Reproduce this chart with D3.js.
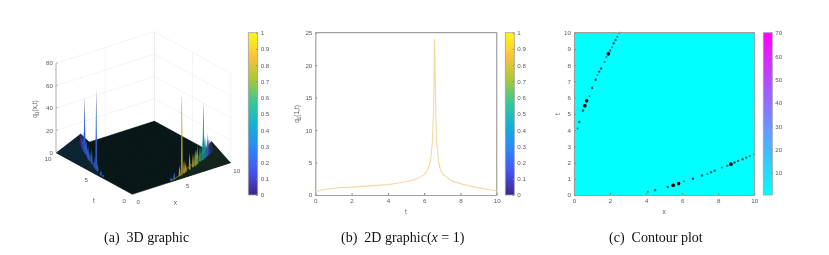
<!DOCTYPE html>
<html>
<head>
<meta charset="utf-8">
<script src="https://cdn.jsdelivr.net/npm/d3@7"></script>
<style>
  html, body { margin: 0; padding: 0; background: #fff; }
  svg { filter: blur(0.3px); display: block; }
  text { font-family: "Liberation Sans", Arial, sans-serif; fill: #5a5a5a; }
  .caption { font-family: "Liberation Serif", "Times New Roman", serif; font-size: 14px; fill: #111; }
  .axis path { stroke: #a0a0a0; stroke-width: 1.2; }
  .axis line { stroke: #8a8a8a; }
  .axis text { font-size: 6.2px; fill: #5a5a5a; }
</style>
</head>
<body>
<svg id="chart" width="829" height="255"></svg>
<script>
// ridge branch near the t axis (x small)
var ridgeAx = [0.2, 0.3, 0.5, 0.6, 0.7, 0.85, 1.0, 1.2, 1.3, 1.4, 1.5, 1.7, 1.8, 1.9, 2.0, 2.1, 2.2, 2.3, 2.4, 2.5];
var ridgeAt = [4.1, 4.5, 5.2, 5.5, 5.8, 6.1, 6.6, 7.1, 7.4, 7.6, 7.8, 8.2, 8.5, 8.7, 8.9, 9.1, 9.35, 9.55, 9.75, 10];
var ridgeAq = [2, 4, 7, 73, 11, 5, 14, 9, 6, 12, 8, 14, 10, 50, 12, 16, 9, 13, 10, 11];
var ridgeAshoulder = [0, 0, 0.5, 1, 1, 1.5, 2, 2.5, 3, 3.5, 4, 5, 5.5, 6, 6.5, 7, 7.5, 8.5, 9.5, 10];
var ridgeAcolor = [0.22, 0.22, 0.22, 0.25, 0.22, 0.22, 0.22, 0.22, 0.22, 0.22, 0.22, 0.22, 0.2, 0.25, 0.15, 0.12, 0.1, 0.08, 0.05, 0.03];
var contourA = [4, 9, 10, 34, 30, 4, 11, 10, 5, 9, 10, 5, 5, 34, 9, 5, 9, 10, 5, 6];

// ridge branch near the x axis (t small)
var ridgeBx = [4.1, 4.5, 5.2, 5.5, 5.8, 6.1, 6.6, 7.1, 7.4, 7.6, 7.8, 8.2, 8.5, 8.7, 8.9, 9.1, 9.35, 9.55, 9.75, 10];
var ridgeBt = [0.2, 0.3, 0.5, 0.6, 0.7, 0.85, 1.0, 1.2, 1.3, 1.4, 1.5, 1.7, 1.8, 1.9, 2.0, 2.1, 2.2, 2.3, 2.4, 2.5];
var ridgeBq = [3, 6, 9, 73, 12, 8, 15, 12, 15, 13, 17, 15, 18, 51, 20, 18, 20, 15, 13, 11];
var ridgeBshoulder = [0, 0, 0.5, 1, 1.5, 2, 2.5, 3, 3.5, 4, 4.5, 5, 6, 6.5, 7, 7.5, 8, 8.5, 9.5, 10];
var ridgeBcolor = [0.25, 0.25, 0.85, 0.8, 0.85, 0.82, 0.8, 0.78, 0.75, 0.7, 0.62, 0.55, 0.5, 0.42, 0.4, 0.35, 0.3, 0.1, 0.05, 0.03];
var contourB = [4, 9, 10, 34, 30, 4, 12, 10, 5, 9, 9, 5, 9, 34, 10, 9, 9, 8, 5, 6];

// 2D slice at x = 1
var sliceT = [0, 0.25, 0.5, 1, 1.5, 2, 3, 4, 4.5, 5, 5.5, 6, 6.2, 6.35, 6.45, 6.52, 6.58, 6.64, 6.7, 6.8, 6.9, 7, 7.5, 8, 8.5, 9, 9.5, 10];
var sliceQ = [0.45, 0.7, 0.85, 1.05, 1.15, 1.22, 1.4, 1.6, 1.8, 2.05, 2.4, 3.1, 3.9, 5.2, 8, 13, 24, 13, 8, 5, 3.9, 3.3, 2.2, 1.75, 1.4, 1.1, 0.85, 0.65];

var axisTicks3d = [0, 5, 10];
var zTicks = [0, 20, 40, 60, 80];
var ticks2dX = [0, 2, 4, 6, 8, 10];
var ticks2dY = [0, 5, 10, 15, 20, 25];
var ticksContour = [0, 1, 2, 3, 4, 5, 6, 7, 8, 9, 10];
var ticksContourX = [0, 2, 4, 6, 8, 10];
var ticksBarUnit = [0, 0.1, 0.2, 0.3, 0.4, 0.5, 0.6, 0.7, 0.8, 0.9, 1];
var ticksBarContour = [10, 20, 30, 40, 50, 60, 70];

var parula = ['#3e2686', '#4752f4', '#2d87f7', '#12b1d6', '#37c897', '#abc739', '#fec338', '#f9fb14'];
var cool = ['#00ffff', '#ff00ff'];

var svg = d3.select('#chart');
var defs = svg.append('defs');
var parulaScale = d3.scaleLinear().domain(d3.range(parula.length).map(function (i) {
  return i / (parula.length - 1);
})).range(parula);

function colorbar(x0, x1, id, colors, domain, ticks, format) {
  var grad = defs.append('linearGradient').attr('id', id)
    .attr('x1', 0).attr('x2', 0).attr('y1', 1).attr('y2', 0);
  colors.forEach(function (c, i) {
    grad.append('stop').attr('offset', i / (colors.length - 1)).attr('stop-color', c);
  });
  svg.append('rect').attr('x', x0).attr('y', 32.7).attr('width', x1 - x0).attr('height', 162.3)
    .attr('fill', 'url(#' + id + ')').attr('stroke', '#a0a0a0').attr('stroke-width', 0.8);
  var y = d3.scaleLinear().domain(domain).range([195, 32.7]);
  svg.append('g').attr('class', 'axis').attr('transform', 'translate(' + x1 + ',0)')
    .call(d3.axisRight(y).tickValues(ticks).tickFormat(format).tickSize(-1.5).tickPadding(3))
    .call(function (g) { g.select('.domain').remove(); });
}

function frame(left, right, xScale, yScale, xTicks, yTicks, xName) {
  var top = 32.7, bottom = 195;
  svg.append('g').attr('class', 'axis').attr('transform', 'translate(0,' + bottom + ')')
    .call(d3.axisBottom(xScale).tickValues(xTicks).tickFormat(d3.format('d')).tickSizeInner(-2).tickSizeOuter(0).tickPadding(3.5));
  svg.append('g').attr('class', 'axis').attr('transform', 'translate(' + left + ',0)')
    .call(d3.axisLeft(yScale).tickValues(yTicks).tickFormat(d3.format('d')).tickSizeInner(-2).tickSizeOuter(0).tickPadding(3));
  svg.append('path').attr('d', 'M' + left + ',' + top + 'H' + right + 'V' + bottom)
    .attr('fill', 'none').attr('stroke', '#a0a0a0').attr('stroke-width', 1.2);
  svg.append('text').attr('x', (left + right) / 2).attr('y', 214).attr('text-anchor', 'middle')
    .attr('font-size', 6.5).text(xName);
}

// ----- panel a: 3D surface, projected with plain linear scales
var origin = { x: 132.3, y: 194.3 };
var xToPx = d3.scaleLinear().domain([0, 10]).range([0, 98.4]);
var xToPy = d3.scaleLinear().domain([0, 10]).range([0, -31.6]);
var tToPx = d3.scaleLinear().domain([0, 10]).range([0, -76.3]);
var tToPy = d3.scaleLinear().domain([0, 10]).range([0, -41.6]);
var zToPy = d3.scaleLinear().domain([0, 80]).range([0, -89.4]);

function project(x, t, q) {
  return [origin.x + xToPx(x) + tToPx(t), origin.y + xToPy(x) + tToPy(t) + zToPy(q || 0)];
}

var line3d = d3.line().x(function (d) { return d[0]; }).y(function (d) { return d[1]; });

function seg(a, b, color, w) {
  svg.append('path').attr('d', line3d([a, b])).attr('fill', 'none').attr('stroke', color).attr('stroke-width', w);
}

// back walls
zTicks.forEach(function (z) {
  seg(project(0, 10, z), project(10, 10, z), '#efefef', 0.7);
  seg(project(10, 10, z), project(10, 0, z), '#efefef', 0.7);
});
seg(project(5, 10, 0), project(5, 10, 80), '#efefef', 0.7);
seg(project(10, 5, 0), project(10, 5, 80), '#efefef', 0.7);
seg(project(10, 10, 0), project(10, 10, 80), '#e6e6e6', 0.9);
seg(project(10, 0, 0), project(10, 0, 80), '#efefef', 0.7);

// front axes
seg(project(0, 10, 0), project(0, 0, 0), '#b5b5b5', 1);
seg(project(0, 0, 0), project(10, 0, 0), '#b5b5b5', 1);
seg(project(0, 10, 0), project(0, 10, 80), '#8a8a8a', 0.7);

// floor of the surface
svg.append('path').attr('fill', '#081517').attr('d', line3d([
  project(0, 0, 0), project(10, 0, 0), project(10, 10, 0), project(0, 10, 0)
]) + 'Z');

// mesh lines on the floor
d3.range(0, 10.01, 0.4).forEach(function (v) {
  seg(project(v, 0, 0), project(v, 10, 0), '#0e2322', 0.3);
  seg(project(0, v, 0), project(10, v, 0), '#0e2322', 0.3);
});

function shoulderPts(xs, ts, zs) {
  return xs.map(function (x, i) { return project(x, ts[i], zs[i]); });
}

// raised shoulders along the ridges
var shoulderA = shoulderPts(ridgeAx, ridgeAt, ridgeAshoulder);
var shoulderB = shoulderPts(ridgeBx, ridgeBt, ridgeBshoulder);

svg.append('path').attr('fill', '#0c2430').attr('d', line3d(
  [project(0, 3.6, 0)].concat(shoulderA, [project(0, 10, 0)])
) + 'Z');
svg.append('path').attr('fill', '#081517').attr('d', line3d(
  [project(2.5, 10, 10), project(3.4, 10, 0), project(2.2, 9, 0)]
) + 'Z');
svg.append('path').attr('fill', '#13241c').attr('d', line3d(
  [project(3.6, 0, 0)].concat(shoulderB, [project(10, 0, 0)])
) + 'Z');
svg.append('path').attr('fill', '#081517').attr('d', line3d(
  [project(10, 2.5, 10), project(10, 3.4, 0), project(9, 2.2, 0)]
) + 'Z');

// spikes, back to front
var spikes = [];
ridgeAx.forEach(function (x, i) {
  spikes.push({ x: x, t: ridgeAt[i], q: ridgeAq[i], c: ridgeAcolor[i] });
});
ridgeBx.forEach(function (x, i) {
  spikes.push({ x: x, t: ridgeBt[i], q: ridgeBq[i], c: ridgeBcolor[i] });
});
spikes.sort(function (a, b) { return (b.x + b.t) - (a.x + a.t); });

spikes.forEach(function (s, i) {
  var id = 'spike' + i;
  var col = d3.color(parulaScale(s.c)).darker(0.35).formatHex();
  var grad = defs.append('linearGradient').attr('id', id).attr('x1', 0).attr('x2', 0).attr('y1', 0).attr('y2', 1);
  grad.append('stop').attr('offset', 0).attr('stop-color', s.q > 30 ? '#444' : col);
  grad.append('stop').attr('offset', s.q > 30 ? 0.5 : 0.3).attr('stop-color', col);
  grad.append('stop').attr('offset', 1).attr('stop-color', d3.color(col).darker(0.8).formatHex());
  var tip = project(s.x, s.t, s.q);
  var foot = project(s.x, s.t, 0);
  var half = 1.05;
  svg.append('path').attr('fill', 'url(#' + id + ')').attr('d', line3d([
    [foot[0] - half, foot[1] - 0.5], [tip[0], tip[1]], [foot[0] + half, foot[1] - 0.5], [foot[0], foot[1] + 1]
  ]) + 'Z');
});

svg.append('path').attr('d', line3d(shoulderB)).attr('fill', 'none').attr('stroke', '#7d7a28').attr('stroke-width', 0.9);

// labels of panel a
function label3d(x, y, txt, size) {
  svg.append('text').attr('x', x).attr('y', y).attr('text-anchor', 'middle').attr('dy', '0.35em')
    .attr('font-size', size || 6.2).text(txt);
}
axisTicks3d.forEach(function (v) {
  var p = project(v, 0, 0);
  label3d(p[0] + 6, p[1] + 7.8, v);
  var q = project(0, v, 0);
  label3d(q[0] - 8, q[1] + 6.6, v);
});
zTicks.forEach(function (z) {
  var p = project(0, 10, z);
  seg([p[0], p[1]], [p[0] + 2, p[1] - 0.6], '#8a8a8a', 0.5);
  svg.append('text').attr('x', p[0] - 3).attr('y', p[1]).attr('dy', '0.35em').attr('text-anchor', 'end')
    .attr('font-size', 6.2).text(z);
});
label3d(94, 200.5, 't', 6.5);
label3d(175.3, 203, 'x', 6.5);

function qLabel(x, y, txt) {
  var t = svg.append('text').attr('transform', 'translate(' + x + ',' + y + ') rotate(-90)')
    .attr('text-anchor', 'middle').attr('font-size', 6.5);
  t.append('tspan').text('q');
  t.append('tspan').attr('font-size', 4.5).attr('dy', 1.5).text('1');
  t.append('tspan').attr('dy', -1.5).text(txt);
}
qLabel(37, 109, '(x,t)');
colorbar(248.3, 257.7, 'barA', parula, [0, 1], ticksBarUnit, d3.format('~g'));

// ----- panel b: slice line
var bx = d3.scaleLinear().domain([0, 10]).range([315.3, 496.7]);
var by = d3.scaleLinear().domain([0, 25]).range([195, 32.7]);
frame(315.3, 496.7, bx, by, ticks2dX, ticks2dY, 't');
svg.append('path').datum(sliceT.map(function (t, i) { return [t, sliceQ[i]]; }))
  .attr('fill', 'none').attr('stroke', '#f3d9a2').attr('stroke-width', 1.1)
  .attr('d', d3.line().x(function (d) { return bx(d[0]); }).y(function (d) { return by(d[1]); }));
qLabel(299, 114, '(1,t)');
colorbar(505.3, 514.3, 'barB', parula, [0, 1], ticksBarUnit, d3.format('~g'));

// ----- panel c: contour plot
var cx = d3.scaleLinear().domain([0, 10]).range([574, 754.3]);
var cy = d3.scaleLinear().domain([0, 10]).range([195, 32.7]);
svg.append('rect').attr('x', cx(0)).attr('y', cy(10)).attr('width', cx(10) - cx(0)).attr('height', cy(0) - cy(10))
  .attr('fill', '#00ffff');
var dotR = d3.scaleSqrt().domain([0, 34]).range([0.5, 1.85]);
var dotC = d3.scaleLinear().domain([4, 26]).range(['#2f7a84', '#000']).clamp(true);
[[ridgeAx, ridgeAt, contourA], [ridgeBx, ridgeBt, contourB]].forEach(function (b) {
  b[0].forEach(function (x, i) {
    svg.append('circle').attr('cx', cx(x)).attr('cy', cy(b[1][i])).attr('r', dotR(b[2][i]))
      .attr('fill', dotC(b[2][i]));
  });
});
frame(574, 754.3, cx, cy, ticksContourX, ticksContour, 'x');
svg.append('text').attr('transform', 'translate(560,114) rotate(-90)').attr('text-anchor', 'middle')
  .attr('font-size', 6.5).text('t');
colorbar(763.3, 772.3, 'barC', cool, [0.5, 70], ticksBarContour, d3.format('d'));

// ----- captions
function caption(x, tag, parts) {
  var t = svg.append('text').attr('class', 'caption').attr('x', x).attr('y', 242);
  t.append('tspan').text(tag);
  parts.forEach(function (p, i) {
    var s = t.append('tspan').text(p[0]);
    if (i === 0) s.attr('dx', 7);
    if (p[1]) s.attr('font-style', 'italic');
  });
}
caption(104, '(a)', [['3D graphic']]);
caption(341, '(b)', [['2D graphic('], ['x', true], [' = 1)']]);
caption(609, '(c)', [['Contour plot']]);
</script>
</body>
</html>
